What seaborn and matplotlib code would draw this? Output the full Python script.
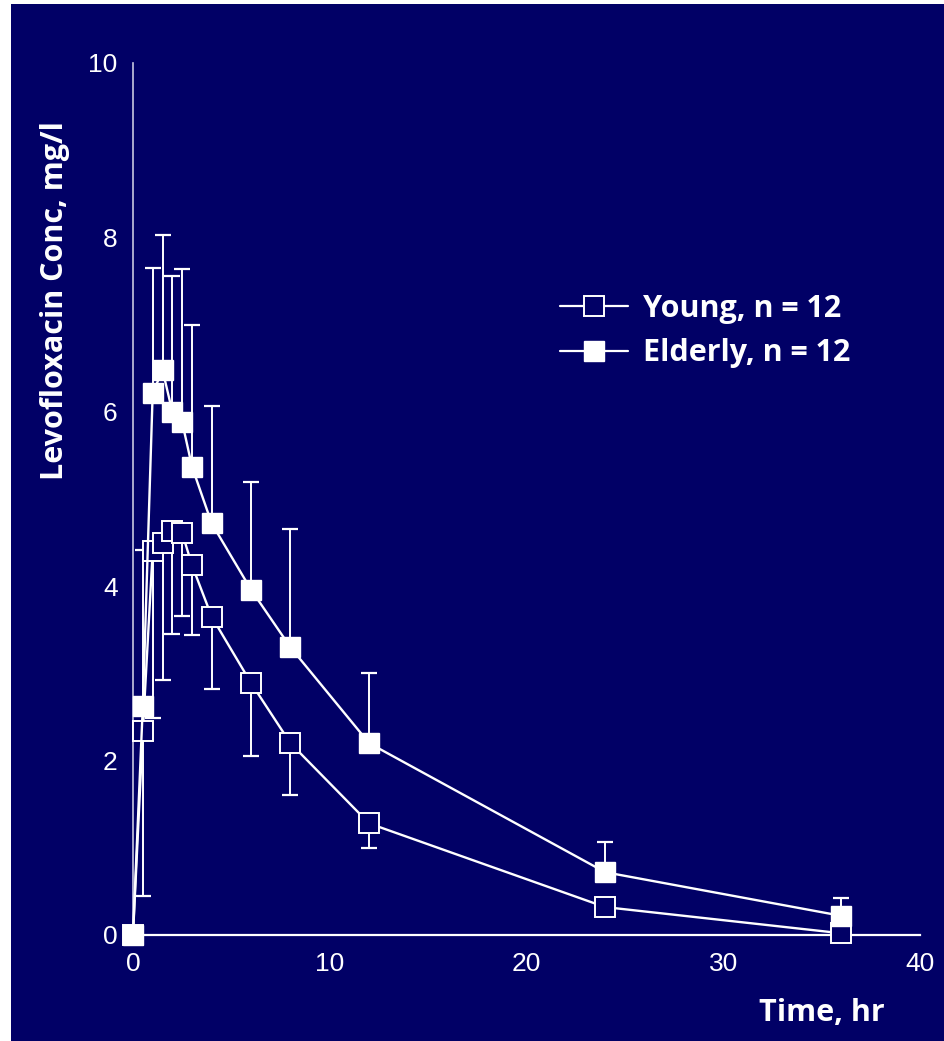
import numpy as np
import pandas as pd
import seaborn as sns
import matplotlib
matplotlib.use("Agg")
import matplotlib.pyplot as plt
from matplotlib.lines import Line2D
from matplotlib.patches import Rectangle

# ---------------- data ----------------
time_hr = [0, 0.5, 1, 1.5, 2, 2.5, 3, 4, 6, 8, 12, 24, 36]
young_mean = [0, 2.34, 4.40, 4.50, 4.63, 4.61, 4.24, 3.65, 2.89, 2.20, 1.28, 0.32, 0.02]
young_lower = [np.nan, 0.45, 2.49, 2.92, 3.45, 3.66, 3.44, 2.82, 2.05, 1.61, 1.00, np.nan, np.nan]
elderly_mean = [0, 2.63, 6.21, 6.48, 6.00, 5.88, 5.37, 4.72, 3.96, 3.30, 2.20, 0.72, 0.22]
elderly_upper = [np.nan, 4.41, 7.65, 8.03, 7.56, 7.64, 7.00, 6.07, 5.20, 4.66, 3.00, 1.07, 0.42]
group_labels = ["Young, n = 12", "Elderly, n = 12"]
x_ticks = [0, 10, 20, 30, 40]
y_ticks = [0, 2, 4, 6, 8, 10]
x_title = "Time, hr"
y_title = "Levofloxacin Conc, mg/l"

BG = "#010066"
FG = "white"

sns.set_theme(style="white")
plt.rcParams["font.family"] = ["Open Sans", "DejaVu Sans"]

fig = plt.figure(figsize=(9.44, 10.41), dpi=100, facecolor="white")
fig.patches.append(Rectangle((11 / 944, 0), 1, 1 - 4 / 1041, transform=fig.transFigure,
                             facecolor=BG, edgecolor="none", zorder=-10))
ax = fig.add_axes([133 / 944, 1 - 935 / 1041, 787 / 944, 872 / 1041])
ax.set_facecolor("none")

df = pd.DataFrame({
    "time": time_hr * 2,
    "conc": young_mean + elderly_mean,
    "group": [group_labels[0]] * len(time_hr) + [group_labels[1]] * len(time_hr),
})

# error bars (one-sided)
ym = np.array(young_mean)
yl = np.array(young_lower)
em = np.array(elderly_mean)
eu = np.array(elderly_upper)
ok = ~np.isnan(yl)
ax.errorbar(np.array(time_hr)[ok], ym[ok], yerr=[ym[ok] - yl[ok], np.zeros(ok.sum())],
            fmt="none", ecolor=FG, elinewidth=1.4, capsize=6, capthick=1.6, zorder=2)
ok = ~np.isnan(eu)
ax.errorbar(np.array(time_hr)[ok], em[ok], yerr=[np.zeros(ok.sum()), eu[ok] - em[ok]],
            fmt="none", ecolor=FG, elinewidth=1.4, capsize=6, capthick=1.6, zorder=2)

sns.lineplot(data=df[df.group == group_labels[0]], x="time", y="conc", ax=ax,
             color=FG, lw=1.7, marker="s", markersize=14, markerfacecolor=BG,
             markeredgecolor=FG, markeredgewidth=1.4, zorder=3, clip_on=False, legend=False)
sns.lineplot(data=df[df.group == group_labels[1]], x="time", y="conc", ax=ax,
             color=FG, lw=1.7, marker="s", markersize=14.5, markerfacecolor=FG,
             markeredgecolor=FG, markeredgewidth=1.0, zorder=4, clip_on=False, legend=False)

ax.set_xlim(0, 40)
ax.set_ylim(0, 10)
ax.set_xticks(x_ticks)
ax.set_yticks(y_ticks)
ax.set_xticklabels([str(v) for v in x_ticks], family=["Liberation Sans", "DejaVu Sans"])
ax.set_yticklabels([str(v) for v in y_ticks], family=["Liberation Sans", "DejaVu Sans"])
ax.tick_params(axis="both", direction="in", length=9, width=1.4, color=FG,
               labelcolor=FG, labelsize=19)
ax.tick_params(axis="x", pad=12)
ax.tick_params(axis="y", pad=11)
for s in ["top", "right"]:
    ax.spines[s].set_visible(False)
ax.spines["bottom"].set_color(FG)
ax.spines["bottom"].set_linewidth(1.6)
ax.spines["left"].set_color("#c8c8e0")
ax.spines["left"].set_linewidth(1.2)

ax.set_xlabel(x_title, color=FG, fontsize=22, fontweight="bold")
ax.set_ylabel(y_title, color=FG, fontsize=22, fontweight="bold")
ax.xaxis.set_label_coords(0.875, -0.0894)
ax.yaxis.set_label_coords(-0.099, 0.728)
ax.xaxis.label.set_va("center")
ax.yaxis.label.set_va("center")

handles = [
    Line2D([], [], color=FG, lw=1.6, marker="s", markersize=14, markerfacecolor=BG,
           markeredgecolor=FG, markeredgewidth=1.4),
    Line2D([], [], color=FG, lw=1.6, marker="s", markersize=14.5, markerfacecolor=FG,
           markeredgecolor=FG),
]
leg = ax.legend(handles, group_labels, loc="upper left", bbox_to_anchor=(0.5426, 0.735),
                frameon=False, borderpad=0, borderaxespad=0,
                handlelength=2.22, handletextpad=0.49, labelspacing=0.47,
                prop={"family": ["Open Sans", "DejaVu Sans"], "weight": "bold", "size": 22})
for t in leg.get_texts():
    t.set_color(FG)

fig.savefig("out.png", dpi=100, facecolor=fig.get_facecolor())
